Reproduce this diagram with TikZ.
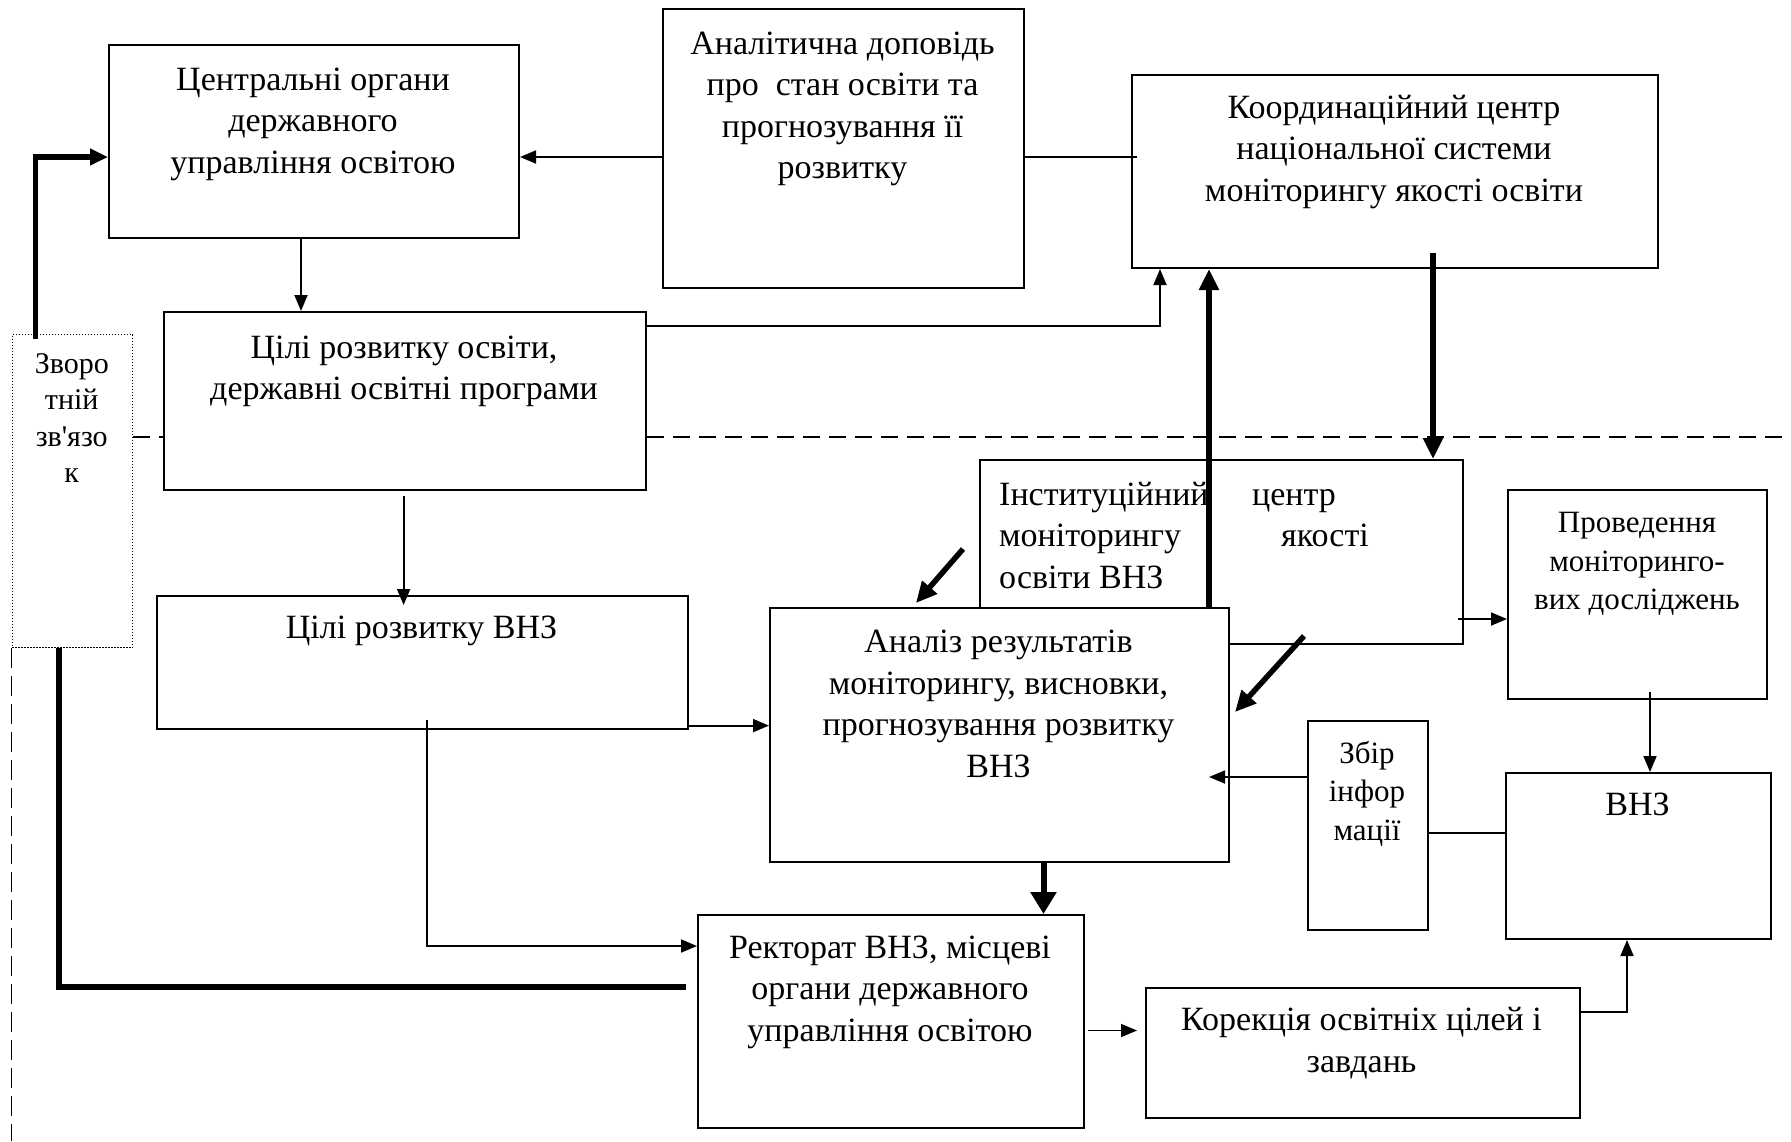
\documentclass[tikz,border=0pt]{standalone}
\usepackage{fontspec}
\setmainfont{Liberation Serif}[Ligatures=TeXOff]
\usetikzlibrary{arrows.meta,calc}
\begin{document}
\begin{tikzpicture}[x=1pt,y=-1pt,
  box/.style={draw, line width=2pt, fill=white, inner sep=0pt, anchor=north west},
  fbbox/.style={draw, line width=1.2pt, dash pattern=on 1.5pt off 1.5pt, inner sep=0pt, anchor=north west},
  txt/.style={font=\fontsize{34}{41.5}\selectfont, align=center, inner sep=0pt, anchor=north},
  txtsm/.style={font=\fontsize{31}{38.5}\selectfont, align=center, inner sep=0pt, anchor=north},
  txtfb/.style={font=\fontsize{30}{36.5}\selectfont, align=center, inner sep=0pt, anchor=north},
  thinl/.style={line width=1.8pt},
  thinarr/.style={line width=1.8pt, -{Triangle[length=16pt,width=13pt]}},
  thickl/.style={line width=5.5pt},
  thickarr/.style={line width=5.5pt, -{Triangle[length=21pt,width=19pt]}},
  bigarr/.style={line width=6pt, -{Triangle[length=22pt,width=25pt]}},
  dashl/.style={line width=1.5pt, dash pattern=on 17pt off 9pt},
  dashv/.style={line width=1.5pt, dash pattern=on 20pt off 8pt}]
\useasboundingbox (0,0) rectangle (1791,1141);

% boxes
\node[box, minimum width=410pt, minimum height=193pt] (central) at (108,44) {};
\node[box, minimum width=361pt, minimum height=279pt] (anal) at (662,8) {};
\node[box, minimum width=526pt, minimum height=193.5pt] (koord) at (1131,73.5) {};
\node[box, minimum width=482pt, minimum height=178pt] (tsos) at (163,311) {};
\node[fbbox, minimum width=120.5pt, minimum height=313pt] (fb) at (11.5,334) {};
\node[box, minimum width=531pt, minimum height=133.5pt] (tsvnz) at (156,594.5) {};
\node[box, minimum width=483pt, minimum height=184pt] (inst) at (979,459) {};
\node[box, minimum width=259pt, minimum height=209pt] (proved) at (1507,489) {};
\node[box, minimum width=459pt, minimum height=254pt] (analiz) at (769,607) {};
\node[box, minimum width=120pt, minimum height=209pt] (zbir) at (1307,720) {};
\node[box, minimum width=265pt, minimum height=166pt] (vnz) at (1505,772) {};
\node[box, minimum width=385.5pt, minimum height=213pt] (rekt) at (697,914) {};
\node[box, minimum width=434pt, minimum height=129.5pt] (korek) at (1144.6,987) {};

% dashed separators
\draw[dashl] (fb.east |- 0,437) -- (tsos.west |- 0,437);
\draw[dashl] (tsos.east |- 0,437) -- (1791,437);
\draw[dashv] (fb.south west) -- (11.5,1141);

% texts
\node[txt] (centralT) at (313,61) {\strut Центральні органи\\державного\\управління освітою};
\node[txt] (analT) at (842.5,25) {\strut Аналітична доповідь\\про\ \ стан освіти та\\прогнозування її\\розвитку};
\node[txt] (koordT) at (1394,89) {\strut Координаційний центр\\національної системи\\моніторингу якості освіти};
\node[txt] (tsosT) at (404,329) {\strut Цілі розвитку освіти,\\державні освітні програми};
\node[txtfb] (fbT) at (71.75,347.5) {\strut Зворо\\тній\\зв'язо\\к};
\node[txt] (tsvnzT) at (421.5,609.5) {\strut Цілі розвитку ВНЗ};
\node[txt, align=left, anchor=north west] (instT) at (999,476) {\strut\makebox[253pt][l]{Інституційний}центр\\\makebox[282pt][l]{моніторингу}якості\\освіти ВНЗ};
\node[txtsm] (provedT) at (1637,505.8) {\strut Проведення\\моніторинго-\\вих досліджень};
\node[txt] (analizT) at (998.5,623.5) {\strut Аналіз результатів\\моніторингу, висновки,\\прогнозування розвитку\\ВНЗ};
\node[txtsm] (zbirT) at (1367,736) {\strut Збір\\інфор\\мації};
\node[txt] (vnzT) at (1637.5,786.5) {\strut ВНЗ};
\node[txt] (rektT) at (890,929) {\strut Ректорат ВНЗ, місцеві\\органи державного\\управління освітою};
\node[txt] (korekT) at (1361.5,1001.5) {\strut Корекція освітніх цілей і\\завдань};

% helper coordinates
\coordinate (c5s) at (403.6,496);
\coordinate (c5e) at (403.6,605);
\coordinate (c7) at (427,720);
\coordinate (c8) at (686,987);
\coordinate (c9) at (35.6,339);
\coordinate (c11) at (1433,252.6);
\coordinate (d1s) at (963,549);
\coordinate (d1e) at (916,603);
\coordinate (d2s) at (1304,636);
\coordinate (d2e) at (1235,712);
\coordinate (c15) at (1458,619);
\coordinate (c16) at (1650,691.5);
\coordinate (c17) at (1209,777);
\coordinate (c20s) at (1088,1030.5);
\coordinate (c20e) at (1137,1030.5);
\coordinate (c2e) at (1137,157);

% connectors
\draw[thinarr] (anal.west |- 0,157) -- (central.east |- 0,157);
\draw[thinl] (anal.east |- 0,157) -- (c2e);
\draw[thinarr] (central.south -| 301,0) -- (tsos.north -| 301,0);
\draw[thinarr] (tsos.east |- 0,326) -| (koord.south -| 1160,0);
\draw[thinarr] (c5s) -- (c5e);
\draw[thinarr] (tsvnz.east |- 0,725.6) -- (analiz.west |- 0,725.6);
\draw[thinarr] (c7) |- (rekt.west |- 0,946);
\draw[thickl] (fb.south -| 59,0) |- (c8);
\draw[thickarr, -{Triangle[length=18pt,width=16pt]}] (c9) |- (central.west |- 0,157);
\draw[thickarr] (analiz.north -| 1209,0) -- (koord.south -| 1209,0);
\draw[thickarr] (c11) -- (inst.north -| 1433,0);
\draw[thickarr] (d1s) -- (d1e);
\draw[thickarr] (d2s) -- (d2e);
\draw[thinarr] (c15) -- (proved.west |- 0,619);
\draw[thinarr] (c16) -- (vnz.north -| 1650,0);
\draw[thinarr] (zbir.west |- 0,777) -- (c17);
\draw[thinl] (vnz.west |- 0,833) -- (zbir.east |- 0,833);
\draw[bigarr] (analiz.south -| 1043.5,0) -- (rekt.north -| 1043.5,0);
\draw[thinarr] (c20s) -- (c20e);
\draw[thinarr] (korek.east |- 0,1012) -| (vnz.south -| 1627,0);
\end{tikzpicture}
\end{document}
